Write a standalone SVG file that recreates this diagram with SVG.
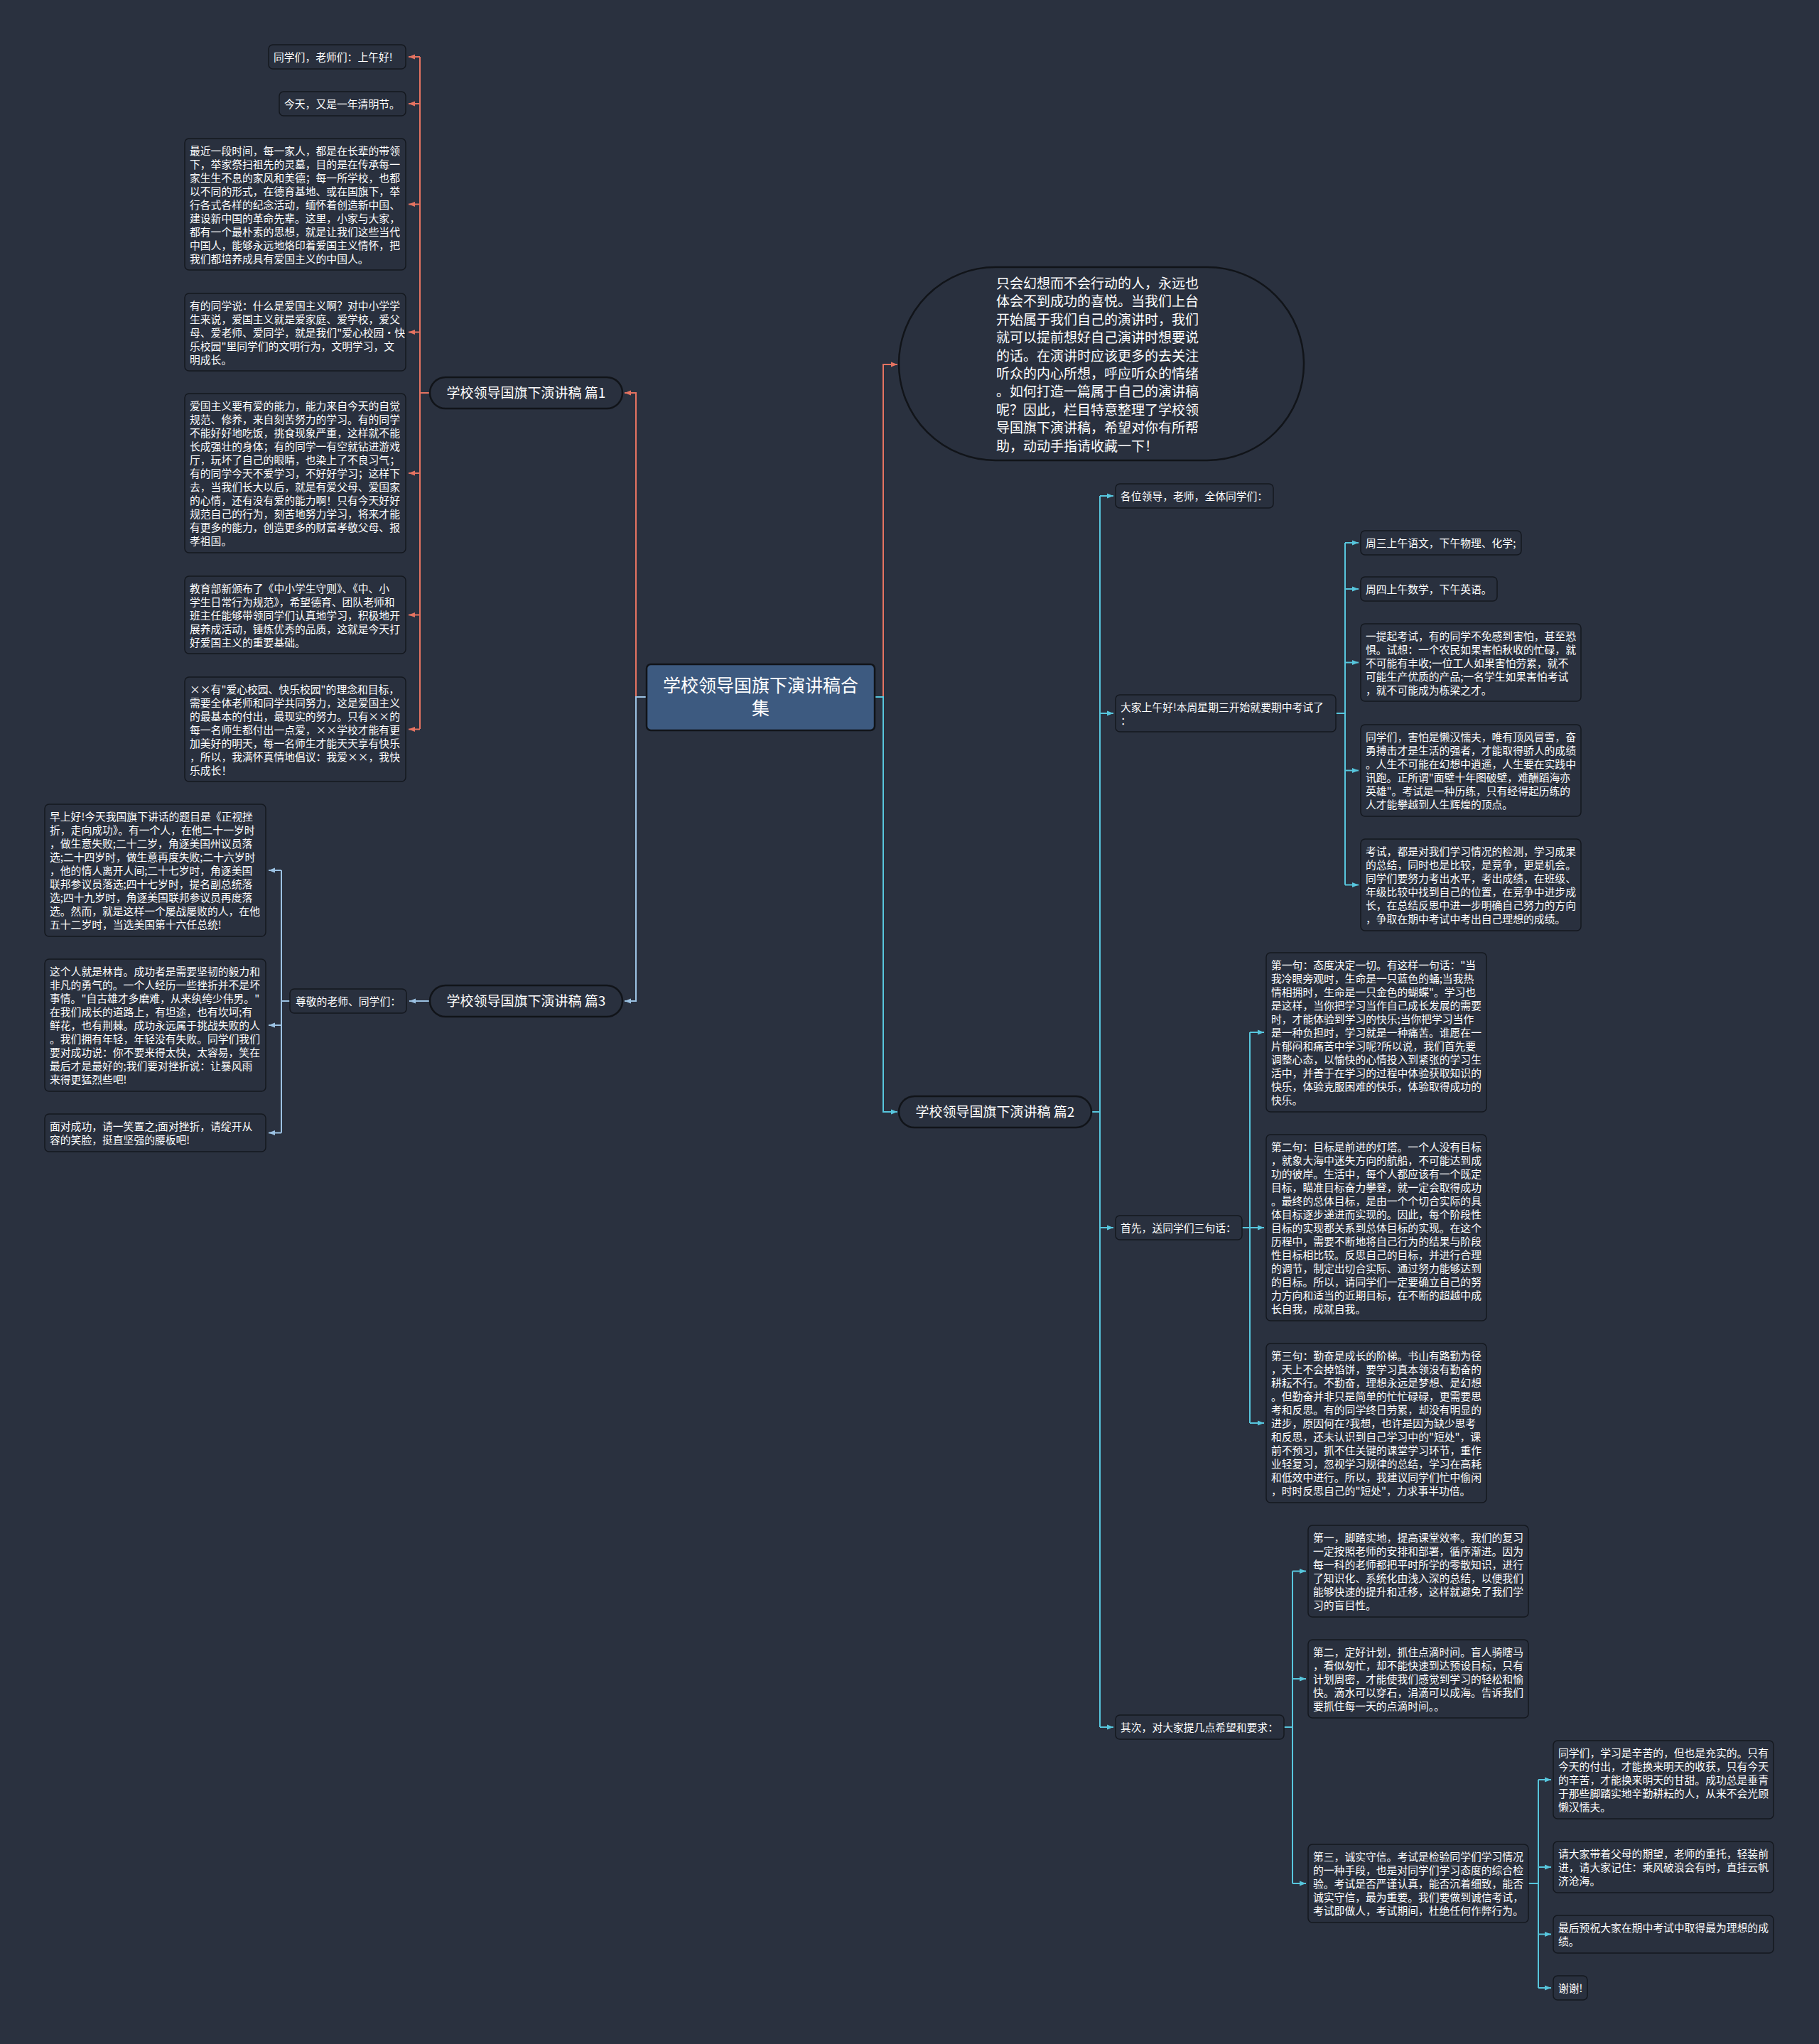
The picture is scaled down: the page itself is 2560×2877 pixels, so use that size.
<svg xmlns="http://www.w3.org/2000/svg" width="2560" height="2877" viewBox="0 0 2560 2877">
<defs>
<style>
.t{font-family:"Noto Sans CJK SC","Noto Sans",sans-serif;font-size:14.8px;fill:#ffffff}
.box{fill:#29303e;stroke:#14181f;stroke-width:1.5}
.pill{fill:#29303e;stroke:#111419;stroke-width:2.5}
.big{font-family:"Noto Sans CJK SC","Noto Sans",sans-serif;font-size:19px;fill:#ffffff}
.r{stroke:#e57361;stroke-width:2;fill:none}
.c{stroke:#57c6dd;stroke-width:2;fill:none}
.p{stroke:#9cc2e3;stroke-width:2;fill:none}
</style>
<marker id="mr" viewBox="0 0 10 10" refX="10" refY="5" markerWidth="9" markerHeight="9" markerUnits="userSpaceOnUse" orient="auto"><path d="M0,1 L10,5 L0,9 z" fill="#e57361"/></marker>
<marker id="mc" viewBox="0 0 10 10" refX="10" refY="5" markerWidth="9" markerHeight="9" markerUnits="userSpaceOnUse" orient="auto"><path d="M0,1 L10,5 L0,9 z" fill="#57c6dd"/></marker>
<marker id="mp" viewBox="0 0 10 10" refX="10" refY="5" markerWidth="9" markerHeight="9" markerUnits="userSpaceOnUse" orient="auto"><path d="M0,1 L10,5 L0,9 z" fill="#9cc2e3"/></marker>
</defs>
<rect x="0" y="0" width="2560" height="2877" fill="#2a313f"/>

<g id="connectors">
<!-- center to branches -->
<path class="r" d="M895,981 V553 H879" marker-end="url(#mr)"/>
<path class="p" d="M910,981 H895 V1409 H879" marker-end="url(#mp)"/>
<path class="r" d="M1243,981 V513 H1263" marker-end="url(#mr)"/>
<path class="c" d="M1231,981 H1243 V1565 H1263" marker-end="url(#mc)"/>
<!-- 篇1 children -->
<path class="r" d="M605,553 H591 M591,80 V1026"/>
<path class="r" d="M591,80 H575" marker-end="url(#mr)"/>
<path class="r" d="M591,146 H575" marker-end="url(#mr)"/>
<path class="r" d="M591,287.5 H575" marker-end="url(#mr)"/>
<path class="r" d="M591,467.5 H575" marker-end="url(#mr)"/>
<path class="r" d="M591,666 H575" marker-end="url(#mr)"/>
<path class="r" d="M591,865.5 H575" marker-end="url(#mr)"/>
<path class="r" d="M591,1026.5 H575" marker-end="url(#mr)"/>
<!-- 篇3 -->
<path class="p" d="M605,1409 H576" marker-end="url(#mp)"/>
<path class="p" d="M408,1409 H396 M396,1225 V1594.5"/>
<path class="p" d="M396,1225 H378" marker-end="url(#mp)"/>
<path class="p" d="M396,1443 H378" marker-end="url(#mp)"/>
<path class="p" d="M396,1594.5 H378" marker-end="url(#mp)"/>
<!-- 篇2 -->
<path class="c" d="M1536,1565 H1548 M1548,698 V2431"/>
<path class="c" d="M1548,698 H1567" marker-end="url(#mc)"/>
<path class="c" d="M1548,1004 H1567" marker-end="url(#mc)"/>
<path class="c" d="M1548,1728 H1567" marker-end="url(#mc)"/>
<path class="c" d="M1548,2431 H1567" marker-end="url(#mc)"/>
<!-- 大家上午好 children -->
<path class="c" d="M1880,1004 H1893 M1893,764 V1245.5"/>
<path class="c" d="M1893,764 H1912" marker-end="url(#mc)"/>
<path class="c" d="M1893,829 H1912" marker-end="url(#mc)"/>
<path class="c" d="M1893,932.5 H1912" marker-end="url(#mc)"/>
<path class="c" d="M1893,1084.5 H1912" marker-end="url(#mc)"/>
<path class="c" d="M1893,1245.5 H1912" marker-end="url(#mc)"/>
<!-- 首先 children -->
<path class="c" d="M1748,1728 H1759 M1759,1453 V2003"/>
<path class="c" d="M1759,1453 H1779" marker-end="url(#mc)"/>
<path class="c" d="M1759,1728 H1779" marker-end="url(#mc)"/>
<path class="c" d="M1759,2003 H1779" marker-end="url(#mc)"/>
<!-- 其次 children -->
<path class="c" d="M1807,2431 H1819 M1819,2211.5 V2651"/>
<path class="c" d="M1819,2211.5 H1838" marker-end="url(#mc)"/>
<path class="c" d="M1819,2363 H1838" marker-end="url(#mc)"/>
<path class="c" d="M1819,2651 H1838" marker-end="url(#mc)"/>
<!-- 第三 children -->
<path class="c" d="M2151,2651 H2165 M2165,2505 V2798"/>
<path class="c" d="M2165,2505 H2183" marker-end="url(#mc)"/>
<path class="c" d="M2165,2628 H2183" marker-end="url(#mc)"/>
<path class="c" d="M2165,2722.5 H2183" marker-end="url(#mc)"/>
<path class="c" d="M2165,2798 H2183" marker-end="url(#mc)"/>
</g>

<g id="root">
<rect x="910" y="935" width="321" height="93" rx="6" fill="#3d5a80" stroke="#111419" stroke-width="2.5"/>
<text x="1070.5" y="974" text-anchor="middle" font-family="Noto Sans CJK SC, Noto Sans, sans-serif" font-size="25" fill="#ffffff"><tspan x="1070.5">学校领导国旗下演讲稿合</tspan><tspan x="1070.5" dy="32">集</tspan></text>
</g>

<g id="intro">
<rect x="1265" y="376" width="570" height="272" rx="136" ry="136" class="pill"/>
<text class="big" x="1402" y="406"><tspan x="1402">只会幻想而不会行动的人，永远也</tspan><tspan x="1402" dy="25.4">体会不到成功的喜悦。当我们上台</tspan><tspan x="1402" dy="25.4">开始属于我们自己的演讲时，我们</tspan><tspan x="1402" dy="25.4">就可以提前想好自己演讲时想要说</tspan><tspan x="1402" dy="25.4">的话。在演讲时应该更多的去关注</tspan><tspan x="1402" dy="25.4">听众的内心所想，呼应听众的情绪</tspan><tspan x="1402" dy="25.4">。如何打造一篇属于自己的演讲稿</tspan><tspan x="1402" dy="25.4">呢？因此，栏目特意整理了学校领</tspan><tspan x="1402" dy="25.4">导国旗下演讲稿，希望对你有所帮</tspan><tspan x="1402" dy="25.4">助，动动手指请收藏一下！</tspan></text>
</g>

<g id="p1">
<rect x="605" y="531" width="271" height="44" rx="22" class="pill"/>
<text class="big" x="740.5" y="560" text-anchor="middle">学校领导国旗下演讲稿 篇1</text>
</g>
<g id="p2">
<rect x="1265" y="1543" width="271" height="44" rx="22" class="pill"/>
<text class="big" x="1400.5" y="1572" text-anchor="middle">学校领导国旗下演讲稿 篇2</text>
</g>
<g id="p3">
<rect x="605" y="1387" width="271" height="44" rx="22" class="pill"/>
<text class="big" x="740.5" y="1416" text-anchor="middle">学校领导国旗下演讲稿 篇3</text>
</g>

<g id="p1-1"><rect class="box" x="378" y="63" width="193" height="34" rx="6"/><text class="t" x="385" y="85.5">同学们，老师们：上午好!</text></g>
<g id="p1-2"><rect class="box" x="393" y="129" width="178" height="34" rx="6"/><text class="t" x="400" y="151.5">今天，又是一年清明节。</text></g>
<g id="p1-3"><rect class="box" x="260" y="195" width="311" height="185" rx="6"/><text class="t" x="267" y="217.5"><tspan x="267">最近一段时间，每一家人，都是在长辈的带领</tspan><tspan x="267" dy="19">下，举家祭扫祖先的灵墓，目的是在传承每一</tspan><tspan x="267" dy="19">家生生不息的家风和美德；每一所学校，也都</tspan><tspan x="267" dy="19">以不同的形式，在德育基地、或在国旗下，举</tspan><tspan x="267" dy="19">行各式各样的纪念活动，缅怀着创造新中国、</tspan><tspan x="267" dy="19">建设新中国的革命先辈。这里，小家与大家，</tspan><tspan x="267" dy="19">都有一个最朴素的思想，就是让我们这些当代</tspan><tspan x="267" dy="19">中国人，能够永远地烙印着爱国主义情怀，把</tspan><tspan x="267" dy="19">我们都培养成具有爱国主义的中国人。</tspan></text></g>
<g id="p1-4"><rect class="box" x="260" y="413" width="311" height="109" rx="6"/><text class="t" x="267" y="435.5"><tspan x="267">有的同学说：什么是爱国主义啊？对中小学学</tspan><tspan x="267" dy="19">生来说，爱国主义就是爱家庭、爱学校，爱父</tspan><tspan x="267" dy="19">母、爱老师、爱同学，就是我们"爱心校园·快</tspan><tspan x="267" dy="19">乐校园"里同学们的文明行为，文明学习，文</tspan><tspan x="267" dy="19">明成长。</tspan></text></g>
<g id="p1-5"><rect class="box" x="260" y="554" width="311" height="224" rx="6"/><text class="t" x="267" y="576.5"><tspan x="267">爱国主义要有爱的能力，能力来自今天的自觉</tspan><tspan x="267" dy="19">规范、修养，来自刻苦努力的学习。有的同学</tspan><tspan x="267" dy="19">不能好好地吃饭，挑食现象严重，这样就不能</tspan><tspan x="267" dy="19">长成强壮的身体；有的同学一有空就钻进游戏</tspan><tspan x="267" dy="19">厅，玩坏了自己的眼睛，也染上了不良习气；</tspan><tspan x="267" dy="19">有的同学今天不爱学习，不好好学习；这样下</tspan><tspan x="267" dy="19">去，当我们长大以后，就是有爱父母、爱国家</tspan><tspan x="267" dy="19">的心情，还有没有爱的能力啊！只有今天好好</tspan><tspan x="267" dy="19">规范自己的行为，刻苦地努力学习，将来才能</tspan><tspan x="267" dy="19">有更多的能力，创造更多的财富孝敬父母、报</tspan><tspan x="267" dy="19">孝祖国。</tspan></text></g>
<g id="p1-6"><rect class="box" x="260" y="811" width="311" height="109" rx="6"/><text class="t" x="267" y="833.5"><tspan x="267">教育部新颁布了《中小学生守则》、《中、小</tspan><tspan x="267" dy="19">学生日常行为规范》，希望德育、团队老师和</tspan><tspan x="267" dy="19">班主任能够带领同学们认真地学习，积极地开</tspan><tspan x="267" dy="19">展养成活动，锤炼优秀的品质，这就是今天打</tspan><tspan x="267" dy="19">好爱国主义的重要基础。</tspan></text></g>
<g id="p1-7"><rect class="box" x="260" y="953" width="311" height="147" rx="6"/><text class="t" x="267" y="975.5"><tspan x="267">××有"爱心校园、快乐校园"的理念和目标，</tspan><tspan x="267" dy="19">需要全体老师和同学共同努力，这是爱国主义</tspan><tspan x="267" dy="19">的最基本的付出，最现实的努力。只有××的</tspan><tspan x="267" dy="19">每一名师生都付出一点爱，××学校才能有更</tspan><tspan x="267" dy="19">加美好的明天，每一名师生才能天天享有快乐</tspan><tspan x="267" dy="19">，所以，我满怀真情地倡议：我爱××，我快</tspan><tspan x="267" dy="19">乐成长！</tspan></text></g>

<g id="p3-1"><rect class="box" x="408" y="1392" width="164" height="34" rx="6"/><text class="t" x="416" y="1414.5">尊敬的老师、同学们：</text></g>
<g id="p3-1-1"><rect class="box" x="63" y="1132" width="311" height="186" rx="6"/><text class="t" x="70" y="1154.5"><tspan x="70">早上好!今天我国旗下讲话的题目是《正视挫</tspan><tspan x="70" dy="19">折，走向成功》。有一个人，在他二十一岁时</tspan><tspan x="70" dy="19">，做生意失败;二十二岁，角逐美国州议员落</tspan><tspan x="70" dy="19">选;二十四岁时，做生意再度失败;二十六岁时</tspan><tspan x="70" dy="19">，他的情人离开人间;二十七岁时，角逐美国</tspan><tspan x="70" dy="19">联邦参议员落选;四十七岁时，提名副总统落</tspan><tspan x="70" dy="19">选;四十九岁时，角逐美国联邦参议员再度落</tspan><tspan x="70" dy="19">选。然而，就是这样一个屡战屡败的人，在他</tspan><tspan x="70" dy="19">五十二岁时，当选美国第十六任总统!</tspan></text></g>
<g id="p3-1-2"><rect class="box" x="63" y="1350" width="311" height="186" rx="6"/><text class="t" x="70" y="1372.5"><tspan x="70">这个人就是林肯。成功者是需要坚韧的毅力和</tspan><tspan x="70" dy="19">非凡的勇气的。一个人经历一些挫折并不是坏</tspan><tspan x="70" dy="19">事情。"自古雄才多磨难，从来纨绔少伟男。"</tspan><tspan x="70" dy="19">在我们成长的道路上，有坦途，也有坎坷;有</tspan><tspan x="70" dy="19">鲜花，也有荆棘。成功永远属于挑战失败的人</tspan><tspan x="70" dy="19">。我们拥有年轻，年轻没有失败。同学们我们</tspan><tspan x="70" dy="19">要对成功说：你不要来得太快，太容易，笑在</tspan><tspan x="70" dy="19">最后才是最好的;我们要对挫折说：让暴风雨</tspan><tspan x="70" dy="19">来得更猛烈些吧!</tspan></text></g>
<g id="p3-1-3"><rect class="box" x="63" y="1568" width="311" height="53" rx="6"/><text class="t" x="70" y="1590.5"><tspan x="70">面对成功，请一笑置之;面对挫折，请绽开从</tspan><tspan x="70" dy="19">容的笑脸，挺直坚强的腰板吧!</tspan></text></g>

<g id="p2-1"><rect class="box" x="1570" y="681" width="222" height="34" rx="6"/><text class="t" x="1577" y="703.5">各位领导，老师，全体同学们：</text></g>
<g id="p2-2"><rect class="box" x="1570" y="978" width="310" height="52" rx="6"/><text class="t" x="1577" y="1000.5"><tspan x="1577">大家上午好!本周星期三开始就要期中考试了</tspan><tspan x="1577" dy="19">：</tspan></text></g>
<g id="p2-2-1"><rect class="box" x="1915" y="747" width="226" height="34" rx="6"/><text class="t" x="1922" y="769.5">周三上午语文，下午物理、化学;</text></g>
<g id="p2-2-2"><rect class="box" x="1915" y="812" width="192" height="34" rx="6"/><text class="t" x="1922" y="834.5">周四上午数学，下午英语。</text></g>
<g id="p2-2-3"><rect class="box" x="1915" y="878" width="310" height="109" rx="6"/><text class="t" x="1922" y="900.5"><tspan x="1922">一提起考试，有的同学不免感到害怕，甚至恐</tspan><tspan x="1922" dy="19">惧。试想：一个农民如果害怕秋收的忙碌，就</tspan><tspan x="1922" dy="19">不可能有丰收;一位工人如果害怕劳累，就不</tspan><tspan x="1922" dy="19">可能生产优质的产品;一名学生如果害怕考试</tspan><tspan x="1922" dy="19">，就不可能成为栋梁之才。</tspan></text></g>
<g id="p2-2-4"><rect class="box" x="1915" y="1020" width="310" height="129" rx="6"/><text class="t" x="1922" y="1042.5"><tspan x="1922">同学们，害怕是懒汉懦夫，唯有顶风冒雪，奋</tspan><tspan x="1922" dy="19">勇搏击才是生活的强者，才能取得骄人的成绩</tspan><tspan x="1922" dy="19">。人生不可能在幻想中逍遥，人生要在实践中</tspan><tspan x="1922" dy="19">讯跑。正所谓"面壁十年图破壁，难酬蹈海亦</tspan><tspan x="1922" dy="19">英雄"。考试是一种历练，只有经得起历练的</tspan><tspan x="1922" dy="19">人才能攀越到人生辉煌的顶点。</tspan></text></g>
<g id="p2-2-5"><rect class="box" x="1915" y="1181" width="310" height="129" rx="6"/><text class="t" x="1922" y="1203.5"><tspan x="1922">考试，都是对我们学习情况的检测，学习成果</tspan><tspan x="1922" dy="19">的总结，同时也是比较，是竞争，更是机会。</tspan><tspan x="1922" dy="19">同学们要努力考出水平，考出成绩，在班级、</tspan><tspan x="1922" dy="19">年级比较中找到自己的位置，在竞争中进步成</tspan><tspan x="1922" dy="19">长，在总结反思中进一步明确自己努力的方向</tspan><tspan x="1922" dy="19">，争取在期中考试中考出自己理想的成绩。</tspan></text></g>

<g id="p2-3"><rect class="box" x="1570" y="1711" width="178" height="34" rx="6"/><text class="t" x="1577" y="1733.5">首先，送同学们三句话：</text></g>
<g id="p2-3-1"><rect class="box" x="1782" y="1341" width="310" height="224" rx="6"/><text class="t" x="1789" y="1363.5"><tspan x="1789">第一句：态度决定一切。有这样一句话："当</tspan><tspan x="1789" dy="19">我冷眼旁观时，生命是一只蓝色的蛹;当我热</tspan><tspan x="1789" dy="19">情相拥时，生命是一只金色的蝴蝶"。学习也</tspan><tspan x="1789" dy="19">是这样，当你把学习当作自己成长发展的需要</tspan><tspan x="1789" dy="19">时，才能体验到学习的快乐;当你把学习当作</tspan><tspan x="1789" dy="19">是一种负担时，学习就是一种痛苦。谁愿在一</tspan><tspan x="1789" dy="19">片郁闷和痛苦中学习呢?所以说，我们首先要</tspan><tspan x="1789" dy="19">调整心态，以愉快的心情投入到紧张的学习生</tspan><tspan x="1789" dy="19">活中，并善于在学习的过程中体验获取知识的</tspan><tspan x="1789" dy="19">快乐，体验克服困难的快乐，体验取得成功的</tspan><tspan x="1789" dy="19">快乐。</tspan></text></g>
<g id="p2-3-2"><rect class="box" x="1782" y="1597" width="310" height="262" rx="6"/><text class="t" x="1789" y="1619.5"><tspan x="1789">第二句：目标是前进的灯塔。一个人没有目标</tspan><tspan x="1789" dy="19">，就象大海中迷失方向的航船，不可能达到成</tspan><tspan x="1789" dy="19">功的彼岸。生活中，每个人都应该有一个既定</tspan><tspan x="1789" dy="19">目标，瞄准目标奋力攀登，就一定会取得成功</tspan><tspan x="1789" dy="19">。最终的总体目标，是由一个个切合实际的具</tspan><tspan x="1789" dy="19">体目标逐步递进而实现的。因此，每个阶段性</tspan><tspan x="1789" dy="19">目标的实现都关系到总体目标的实现。在这个</tspan><tspan x="1789" dy="19">历程中，需要不断地将自己行为的结果与阶段</tspan><tspan x="1789" dy="19">性目标相比较。反思自己的目标，并进行合理</tspan><tspan x="1789" dy="19">的调节，制定出切合实际、通过努力能够达到</tspan><tspan x="1789" dy="19">的目标。所以，请同学们一定要确立自己的努</tspan><tspan x="1789" dy="19">力方向和适当的近期目标，在不断的超越中成</tspan><tspan x="1789" dy="19">长自我，成就自我。</tspan></text></g>
<g id="p2-3-3"><rect class="box" x="1782" y="1891" width="310" height="224" rx="6"/><text class="t" x="1789" y="1913.5"><tspan x="1789">第三句：勤奋是成长的阶梯。书山有路勤为径</tspan><tspan x="1789" dy="19">，天上不会掉馅饼，要学习真本领没有勤奋的</tspan><tspan x="1789" dy="19">耕耘不行。不勤奋，理想永远是梦想、是幻想</tspan><tspan x="1789" dy="19">。但勤奋并非只是简单的忙忙碌碌，更需要思</tspan><tspan x="1789" dy="19">考和反思。有的同学终日劳累，却没有明显的</tspan><tspan x="1789" dy="19">进步，原因何在?我想，也许是因为缺少思考</tspan><tspan x="1789" dy="19">和反思，还未认识到自己学习中的"短处"，课</tspan><tspan x="1789" dy="19">前不预习，抓不住关键的课堂学习环节，重作</tspan><tspan x="1789" dy="19">业轻复习，忽视学习规律的总结，学习在高耗</tspan><tspan x="1789" dy="19">和低效中进行。所以，我建议同学们忙中偷闲</tspan><tspan x="1789" dy="19">，时时反思自己的"短处"，力求事半功倍。</tspan></text></g>

<g id="p2-4"><rect class="box" x="1570" y="2414" width="237" height="34" rx="6"/><text class="t" x="1577" y="2436.5">其次，对大家提几点希望和要求：</text></g>
<g id="p2-4-1"><rect class="box" x="1841" y="2147" width="310" height="129" rx="6"/><text class="t" x="1848" y="2169.5"><tspan x="1848">第一，脚踏实地，提高课堂效率。我们的复习</tspan><tspan x="1848" dy="19">一定按照老师的安排和部署，循序渐进。因为</tspan><tspan x="1848" dy="19">每一科的老师都把平时所学的零散知识，进行</tspan><tspan x="1848" dy="19">了知识化、系统化由浅入深的总结，以便我们</tspan><tspan x="1848" dy="19">能够快速的提升和迁移，这样就避免了我们学</tspan><tspan x="1848" dy="19">习的盲目性。</tspan></text></g>
<g id="p2-4-2"><rect class="box" x="1841" y="2308" width="310" height="110" rx="6"/><text class="t" x="1848" y="2330.5"><tspan x="1848">第二，定好计划，抓住点滴时间。盲人骑瞎马</tspan><tspan x="1848" dy="19">，看似匆忙，却不能快速到达预设目标，只有</tspan><tspan x="1848" dy="19">计划周密，才能使我们感觉到学习的轻松和愉</tspan><tspan x="1848" dy="19">快。滴水可以穿石，涓滴可以成海。告诉我们</tspan><tspan x="1848" dy="19">要抓住每一天的点滴时间。。</tspan></text></g>
<g id="p2-4-3"><rect class="box" x="1841" y="2596" width="310" height="110" rx="6"/><text class="t" x="1848" y="2618.5"><tspan x="1848">第三，诚实守信。考试是检验同学们学习情况</tspan><tspan x="1848" dy="19">的一种手段，也是对同学们学习态度的综合检</tspan><tspan x="1848" dy="19">验。考试是否严谨认真，能否沉着细致，能否</tspan><tspan x="1848" dy="19">诚实守信，最为重要。我们要做到诚信考试，</tspan><tspan x="1848" dy="19">考试即做人，考试期间，杜绝任何作弊行为。</tspan></text></g>
<g id="p2-4-3-1"><rect class="box" x="2186" y="2450" width="310" height="110" rx="6"/><text class="t" x="2193" y="2472.5"><tspan x="2193">同学们，学习是辛苦的，但也是充实的。只有</tspan><tspan x="2193" dy="19">今天的付出，才能换来明天的收获，只有今天</tspan><tspan x="2193" dy="19">的辛苦，才能换来明天的甘甜。成功总是垂青</tspan><tspan x="2193" dy="19">于那些脚踏实地辛勤耕耘的人，从来不会光顾</tspan><tspan x="2193" dy="19">懒汉懦夫。</tspan></text></g>
<g id="p2-4-3-2"><rect class="box" x="2186" y="2592" width="310" height="72" rx="6"/><text class="t" x="2193" y="2614.5"><tspan x="2193">请大家带着父母的期望，老师的重托，轻装前</tspan><tspan x="2193" dy="19">进，请大家记住：乘风破浪会有时，直挂云帆</tspan><tspan x="2193" dy="19">济沧海。</tspan></text></g>
<g id="p2-4-3-3"><rect class="box" x="2186" y="2696" width="310" height="53" rx="6"/><text class="t" x="2193" y="2718.5"><tspan x="2193">最后预祝大家在期中考试中取得最为理想的成</tspan><tspan x="2193" dy="19">绩。</tspan></text></g>
<g id="p2-4-3-4"><rect class="box" x="2186" y="2781" width="48" height="34" rx="6"/><text class="t" x="2193" y="2803.5">谢谢!</text></g>
</svg>
